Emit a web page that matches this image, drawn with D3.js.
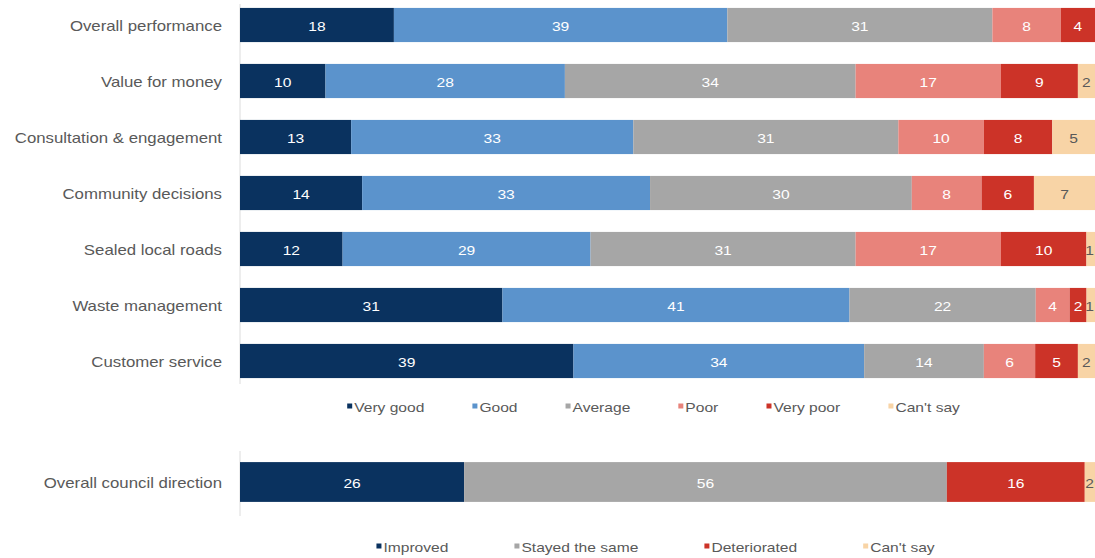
<!DOCTYPE html>
<html>
<head>
<meta charset="utf-8">
<script src="https://cdn.jsdelivr.net/npm/d3@7"></script>
<style>
  html, body { margin: 0; padding: 0; background: #ffffff; }
  svg { display: block; }
  text { font-family: "Liberation Sans", Arial, sans-serif; }
</style>
</head>
<body>
<svg id="chart" width="1095" height="558"></svg>
<script>
// ---- Service ratings (percent of respondents) ----
const serviceAreas = [
  "Overall performance",
  "Value for money",
  "Consultation & engagement",
  "Community decisions",
  "Sealed local roads",
  "Waste management",
  "Customer service"
];
const ratingKeys = ["Very good", "Good", "Average", "Poor", "Very poor", "Can't say"];
const veryGood = [18, 10, 13, 14, 12, 31, 39];
const good     = [39, 28, 33, 33, 29, 41, 34];
const average  = [31, 34, 31, 30, 31, 22, 14];
const poor     = [8, 17, 10, 8, 17, 4, 6];
const veryPoor = [4, 9, 8, 6, 10, 2, 5];
const cantSay  = [0, 2, 5, 7, 1, 1, 2];

// ---- Direction of council (percent) ----
const directionArea = ["Overall council direction"];
const directionKeys = ["Improved", "Stayed the same", "Deteriorated", "Can't say"];
const improved     = [26];
const stayedSame   = [56];
const deteriorated = [16];
const dirCantSay   = [2];

const ratingColors = ["#0a325f", "#5b93cc", "#a6a6a6", "#e8837b", "#cc3328", "#f8d4a6"];
const directionColors = ["#0a325f", "#a6a6a6", "#cc3328", "#f8d4a6"];

const svg = d3.select("#chart");
const WIDTH = 1095;
const SX = 1.2;              // horizontal glyph stretch used for all text
const labelGrey = "#595959";

function stretchText(sel, x, y) {
  sel.attr("x", 0).attr("y", 0)
     .attr("transform", `translate(${x},${y}) scale(${SX},1)`);
}

// Build a 100% stacked horizontal bar panel
function panel(opts) {
  const rows = opts.categories.map((c, i) => {
    const r = { category: c };
    opts.keys.forEach((k, j) => { r[k] = opts.series[j][i]; });
    return r;
  });
  // normalise every row to 100%
  const norm = rows.map(r => {
    const total = d3.sum(opts.keys, k => r[k]);
    const n = { category: r.category };
    opts.keys.forEach(k => { n[k] = r[k] / total * 100; n["_" + k] = r[k]; });
    return n;
  });
  const stack = d3.stack().keys(opts.keys)(norm);

  const x = d3.scaleLinear().domain([0, 100]).range(opts.xRange);
  const y = d3.scaleBand().domain(opts.categories).range(opts.yRange)
    .paddingInner(opts.padInner).paddingOuter(opts.padOuter);

  const g = svg.append("g");

  // value axis baseline
  g.append("line")
    .attr("x1", x(0)).attr("x2", x(0))
    .attr("y1", opts.axisY[0]).attr("y2", opts.axisY[1])
    .attr("stroke", "#dcdcdc").attr("stroke-width", 1);

  const layers = g.selectAll("g.layer").data(stack).join("g")
    .attr("class", "layer")
    .attr("fill", (d, i) => opts.colors[i]);

  layers.selectAll("rect").data(d => d)
    .join("rect")
    .attr("x", d => x(d[0]))
    .attr("y", d => y(d.data.category))
    .attr("width", d => Math.max(0, x(d[1]) - x(d[0])))
    .attr("height", y.bandwidth());

  // segment value labels
  const lastKey = opts.keys[opts.keys.length - 1];
  layers.each(function (layer) {
    d3.select(this).selectAll("text").data(layer.filter(p => p.data["_" + layer.key] > 0))
      .join("text")
      .attr("text-anchor", "middle")
      .attr("dominant-baseline", "central")
      .attr("font-size", 13)
      .attr("fill", layer.key === lastKey ? labelGrey : "#ffffff")
      .text(p => p.data["_" + layer.key])
      .each(function (p) {
        const half = this.getComputedTextLength() * SX / 2;
        const cx = Math.min((x(p[0]) + x(p[1])) / 2, WIDTH - half - 1);
        stretchText(d3.select(this), cx, y(p.data.category) + y.bandwidth() / 2 + 1);
      });
  });

  // category axis
  const axis = g.append("g")
    .attr("transform", `translate(${x(0)},0)`)
    .call(d3.axisLeft(y).tickSize(0).tickPadding(18));
  axis.select(".domain").remove();
  axis.selectAll(".tick text")
    .attr("font-size", 14)
    .attr("font-family", "Liberation Sans, Arial, sans-serif")
    .attr("fill", labelGrey)
    .attr("dy", null)
    .attr("dominant-baseline", "central")
    .each(function () {
      stretchText(d3.select(this), -18, 1);
    });

  // legend
  const lg = svg.append("g");
  const items = lg.selectAll("g").data(opts.keys).join("g");
  items.append("rect")
    .attr("width", 5).attr("height", 5).attr("y", -2.5)
    .attr("fill", (d, i) => opts.colors[i]);
  items.append("text")
    .attr("font-size", 13).attr("fill", labelGrey)
    .attr("dominant-baseline", "central")
    .text(d => d)
    .each(function () { stretchText(d3.select(this), 7, 1); });
  const widths = [];
  items.each(function () { widths.push(this.getBBox().width); });
  const totalW = d3.sum(widths) + opts.legendGap * (widths.length - 1);
  let cx = opts.legendCenter - totalW / 2;
  items.attr("transform", (d, i) => {
    const t = `translate(${cx},${opts.legendY})`;
    cx += widths[i] + opts.legendGap;
    return t;
  });
}

panel({
  categories: serviceAreas,
  keys: ratingKeys,
  series: [veryGood, good, average, poor, veryPoor, cantSay],
  colors: ratingColors,
  xRange: [240, 1095],
  yRange: [-3, 389],
  padInner: 0.39, padOuter: 0.195,
  axisY: [4, 384],
  legendCenter: 654, legendY: 406, legendGap: 48
});

panel({
  categories: directionArea,
  keys: directionKeys,
  series: [improved, stayedSame, deteriorated, dirCantSay],
  colors: directionColors,
  xRange: [240, 1102],
  yRange: [452, 512],
  padInner: 0.33, padOuter: 0.17,
  axisY: [451, 516],
  legendCenter: 656, legendY: 546, legendGap: 66
});
</script>
</body>
</html>
